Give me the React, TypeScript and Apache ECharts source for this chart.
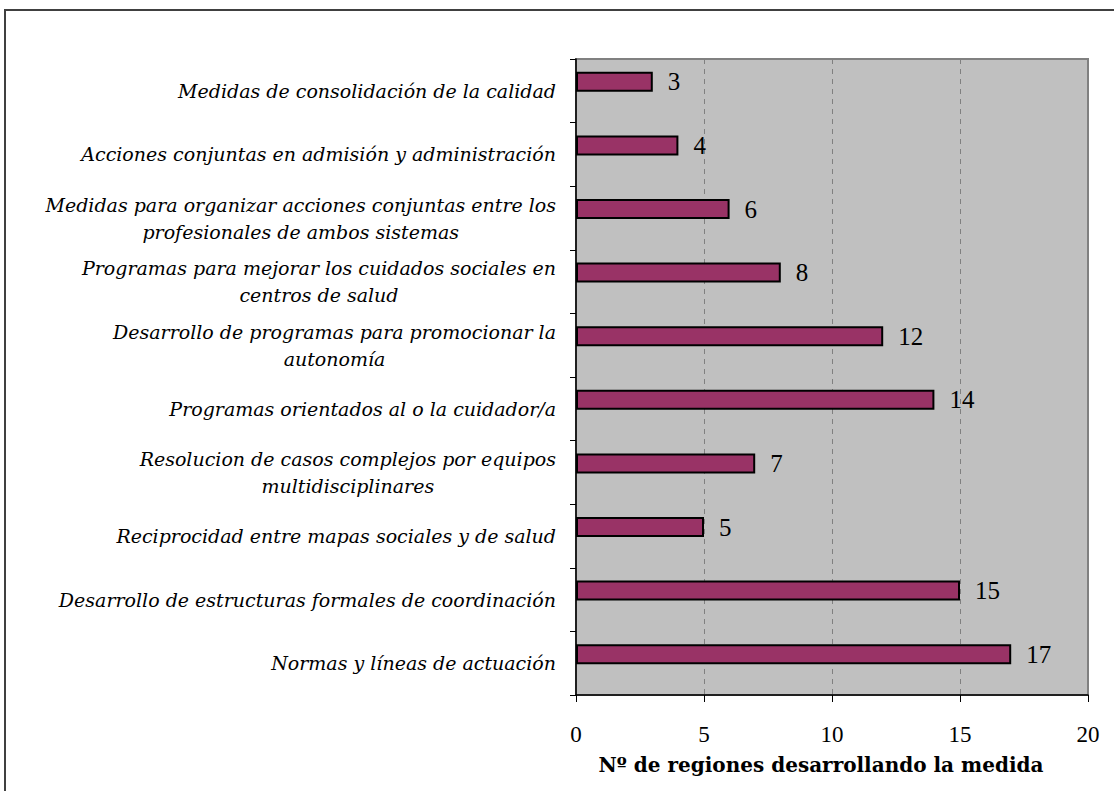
import React, { useEffect, useRef } from "react";
import * as echarts from "echarts";

const categories: string[] = [
  "Medidas de consolidación de la calidad",
  "Acciones conjuntas en admisión y administración",
  "Medidas para organizar acciones conjuntas entre los\nprofesionales de ambos sistemas",
  "Programas para mejorar los cuidados sociales en\ncentros de salud",
  "Desarrollo de programas para promocionar la\nautonomía",
  "Programas orientados al o la cuidador/a",
  "Resolucion de casos complejos por equipos\nmultidisciplinares",
  "Reciprocidad entre mapas sociales y de salud",
  "Desarrollo de estructuras formales de coordinación",
  "Normas y líneas de actuación",
];

const values: number[] = [3, 4, 6, 8, 12, 14, 7, 5, 15, 17];
const spacer: (number | string)[] = ["-", "-", "-", "-", "-", "-", "-", "-", "-", "-"];

const axisTitle = "Nº de regiones desarrollando la medida";

export default function App() {
  const ref = useRef<HTMLDivElement>(null);
  useEffect(() => {
    if (!ref.current) return;
    const chart = echarts.init(ref.current, undefined, { renderer: "svg" });
    const serif = "'Liberation Serif', 'Times New Roman', serif";
    const dejavu = "'DejaVu Serif', serif";
    chart.setOption({
      animation: false,
      backgroundColor: "#ffffff",
      graphic: [
        {
          type: "rect",
          z: -10,
          shape: { x: 5, y: 10, width: 1300, height: 1000 },
          style: { fill: "none", stroke: "#404040", lineWidth: 2 },
          silent: true,
        },
      ],
      grid: {
        left: 576,
        right: 26,
        top: 59,
        bottom: 96,
        show: true,
        backgroundColor: "#C0C0C0",
        borderColor: "#808080",
        borderWidth: 2,
      },
      xAxis: {
        type: "value",
        min: 0,
        max: 20,
        interval: 5,
        name: axisTitle,
        nameLocation: "middle",
        nameGap: 60,
        nameTextStyle: {
          fontFamily: dejavu,
          fontWeight: "bold",
          fontSize: 20,
          color: "#000",
          padding: [0, 22, 0, 0],
        },
        axisLine: { show: true, lineStyle: { color: "#000", width: 1.5 } },
        axisTick: { show: true, inside: false, length: 7, lineStyle: { color: "#000" } },
        axisLabel: { fontFamily: serif, fontSize: 23, color: "#000", margin: 28 },
        splitLine: { show: true, lineStyle: { color: "#808080", type: [5, 5], width: 1 } },
      },
      yAxis: {
        type: "category",
        inverse: true,
        data: categories,
        axisLine: { show: true, lineStyle: { color: "#000", width: 1.5 } },
        axisTick: { show: true, inside: false, length: 6, lineStyle: { color: "#000" } },
        axisLabel: {
          margin: 20,
          formatter: (v: string) =>
            v
              .split("\n")
              .map((l) => `{c|${l}}`)
              .join("\n"),
          rich: {
            c: {
              fontFamily: dejavu,
              fontStyle: "italic",
              fontSize: 19,
              lineHeight: 27,
              color: "#000",
              align: "center",
            },
          },
        },
        splitLine: { show: false },
      },
      series: [
        {
          type: "bar",
          data: values,
          barWidth: 20,
          barGap: "-10%",
          itemStyle: { color: "#993366", borderColor: "#000", borderWidth: 2 },
          label: {
            show: true,
            position: "right",
            distance: 15,
            fontFamily: serif,
            fontSize: 25,
            color: "#000",
          },
        },
        {
          type: "bar",
          data: spacer,
          barWidth: 20,
          silent: true,
          itemStyle: { color: "transparent", borderWidth: 0 },
        },
      ],
    });
    return () => chart.dispose();
  }, []);
  return (
    <div
      ref={ref}
      style={{ position: "absolute", left: 0, top: 0, width: 1114, height: 791 }}
    />
  );
}
